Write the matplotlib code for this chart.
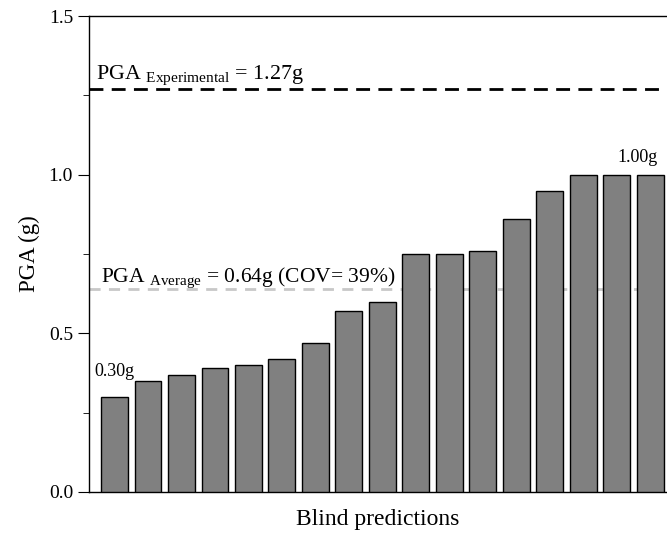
import matplotlib.pyplot as plt
import numpy as np

plt.rcParams['font.family'] = ['Liberation Serif', 'DejaVu Serif']
plt.rcParams['mathtext.fontset'] = 'custom'
plt.rcParams['mathtext.rm'] = 'Liberation Serif'
plt.rcParams['mathtext.it'] = 'Liberation Serif:italic'

# blind predictions of PGA (g), sorted
pga = [0.30, 0.35, 0.37, 0.39, 0.40, 0.42, 0.47, 0.57, 0.60,
       0.75, 0.75, 0.76, 0.86, 0.95, 1.00, 1.00, 1.00]
pga_exp = 1.27
pga_avg = 0.64

x = np.arange(len(pga))

fig = plt.figure(figsize=(6.67, 5.39), dpi=100)
ax = fig.add_axes([0.1334, 0.0872, 0.8666, 0.8831])

ax.bar(x, pga, width=0.8, color='#808080', edgecolor='black', linewidth=1.0, zorder=3)

ax.axhline(pga_exp, color='black', linestyle=(0, (5, 3)), linewidth=2, zorder=2)
ax.axhline(pga_avg, color='#c8c8c8', linestyle=(0, (4, 3)), linewidth=2, zorder=2)

ax.text(-0.55, pga_exp + 0.033, r'PGA $_{\mathrm{Experimental}}$ = 1.27g', fontsize=15.8)
ax.text(-0.4, pga_avg + 0.022, r'PGA $_{\mathrm{Average}}$ = 0.64g (COV= 39%)', fontsize=15.5)

ax.text(x[0], pga[0] + 0.065, '%.2fg' % pga[0], fontsize=13, ha='center')
ax.text(x[-1] - 0.38, pga[-1] + 0.04, '%.2fg' % pga[-1], fontsize=13, ha='center')

ax.set_xlim(-0.76, 16.5)
ax.set_ylim(0, 1.5)
ax.set_yticks([0.0, 0.5, 1.0, 1.5])
ax.set_yticklabels(['0.0', '0.5', '1.0', '1.5'])
ax.set_yticks([0.25, 0.75, 1.25], minor=True)
ax.tick_params(axis='y', which='major', length=8, labelsize=14, direction='out')
ax.tick_params(axis='y', which='minor', length=4, direction='out')
ax.set_xticks(x)
ax.tick_params(axis='x', which='major', length=3, direction='in', labelbottom=False)

ax.spines['right'].set_visible(False)
for s in ['left', 'top', 'bottom']:
    ax.spines[s].set_linewidth(1.0)

ax.set_ylabel('PGA (g)', fontsize=16.5, labelpad=6)
ax.set_xlabel('Blind predictions', fontsize=17, labelpad=12)

plt.savefig('out.png', dpi=100)
